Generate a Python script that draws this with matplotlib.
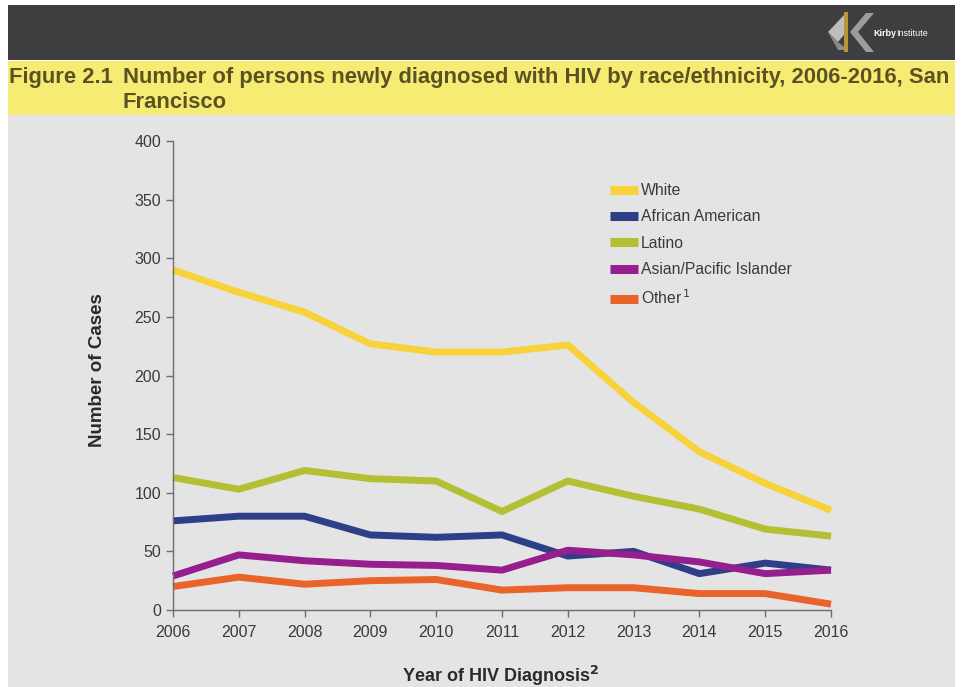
import matplotlib.pyplot as plt
from matplotlib.patches import Rectangle, Polygon

years = [2006, 2007, 2008, 2009, 2010, 2011, 2012, 2013, 2014, 2015, 2016]
white = [290, 271, 254, 227, 220, 220, 226, 177, 135, 108, 85]
african_american = [76, 80, 80, 64, 62, 64, 46, 50, 31, 40, 34]
latino = [113, 103, 119, 112, 110, 84, 110, 97, 86, 69, 63]
asian_pi = [29, 47, 42, 39, 38, 34, 51, 47, 41, 31, 34]
other = [20, 28, 22, 25, 26, 17, 19, 19, 14, 14, 5]

labels = ['White', 'African American', 'Latino', 'Asian/Pacific Islander', 'Other$^{\\,1}$']
colors = ['#F8D23A', '#2E3F88', '#B3C034', '#961E8E', '#E8642B']

plt.rcParams['font.family'] = ['Liberation Sans', 'DejaVu Sans']

fig = plt.figure(figsize=(9.61, 6.87), dpi=100)
fig.patch.set_facecolor('white')


def fx(x): return x/961
def fy(y): return 1-y/687


def box(x, y, w, h, c):
    fig.add_artist(Rectangle((fx(x), fy(y+h)), w/961, h/687, transform=fig.transFigure,
                             facecolor=c, edgecolor='none', zorder=-5))


# header bands
box(8, 5, 947, 55, '#3E3E40')
box(8, 61, 947, 54, '#F6EC74')
box(8, 115, 947, 572, '#E4E4E4')

# rough logo
fig.add_artist(Polygon([(fx(828), fy(32)), (fx(845), fy(14)), (fx(848), fy(30)), (fx(838), fy(42))],
                       closed=True, transform=fig.transFigure, facecolor='#BDBDBD', edgecolor='none'))
fig.add_artist(Polygon([(fx(828), fy(32)), (fx(838), fy(42)), (fx(848), fy(50)), (fx(838), fy(50))],
                       closed=True, transform=fig.transFigure, facecolor='#8A8A8A', edgecolor='none'))
fig.add_artist(Rectangle((fx(844), fy(52)), 4/961, 40/687, transform=fig.transFigure,
                         facecolor='#B8953A', edgecolor='none'))
fig.add_artist(Polygon([(fx(850), fy(32)), (fx(866), fy(13)), (fx(874), fy(13)), (fx(858), fy(32)),
                        (fx(874), fy(52)), (fx(866), fy(52))],
                       closed=True, transform=fig.transFigure, facecolor='#9C9C9C', edgecolor='none'))
fig.text(fx(873), fy(33), 'Kirby', color='white', fontsize=6.5, fontweight='bold', va='center')
fig.text(fx(896), fy(33), 'Institute', color='white', fontsize=6.5, va='center')

fig.text(fx(9), fy(77), 'Figure 2.1', fontsize=15.8, fontweight='bold', color='#5A5222', va='center')
fig.text(fx(123), fy(77), 'Number of persons newly diagnosed with HIV by race/ethnicity, 2006-2016, San',
         fontsize=15.8, fontweight='bold', color='#5A5222', va='center')
fig.text(fx(123), fy(102), 'Francisco', fontsize=15.8, fontweight='bold', color='#5A5222', va='center')

ax = fig.add_axes([173/961, 77/687, 658/961, 469/687])
ax.set_facecolor('none')

series = [white, african_american, latino, asian_pi, other]
for vals, lab, col in zip(series, labels, colors):
    ax.plot(years, vals, color=col, linewidth=5, label=lab, solid_capstyle='butt', clip_on=False)

ax.set_xlim(2006, 2016)
ax.set_ylim(0, 400)
ax.set_xticks(years)
ax.set_yticks(range(0, 401, 50))
for s in ['top', 'right']:
    ax.spines[s].set_visible(False)
for s in ['left', 'bottom']:
    ax.spines[s].set_color('#6E6E6E')
    ax.spines[s].set_linewidth(1)
ax.tick_params(axis='both', colors='#6E6E6E', labelcolor='#3A3A3A', labelsize=11.5, length=5, width=1)
ax.tick_params(axis='x', pad=6)

fig.text(fx(97), fy(370), 'Number of Cases', fontsize=13.5, fontweight='bold', color='#2A2A2A',
         rotation=90, ha='center', va='center')
fig.text(fx(500), fy(676), 'Year of HIV Diagnosis$^{\\mathbf{2}}$', fontsize=13, fontweight='bold',
         color='#2A2A2A', ha='center', va='center')

leg = ax.legend(loc='upper left', bbox_to_anchor=((596-173)/658, (610-169)/469), frameon=False,
                fontsize=11.3, handlelength=1.75, handletextpad=0.2, labelspacing=0.72)
for h in leg.get_lines():
    h.set_linewidth(6.5)
for t in leg.get_texts():
    t.set_color('#3A3A3A')

fig.savefig('out.png', dpi=100)
